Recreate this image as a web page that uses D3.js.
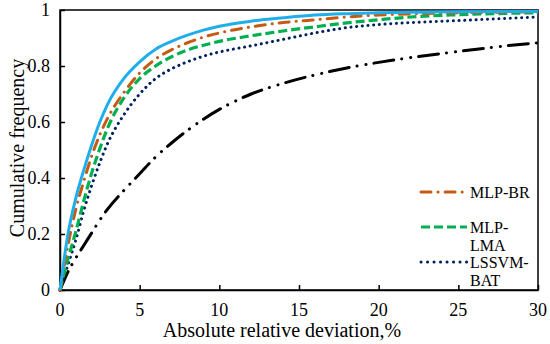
<!DOCTYPE html>
<html><head><meta charset="utf-8"><script src="https://cdn.jsdelivr.net/npm/d3@7"></script></head>
<body style="margin:0">
<svg width="550" height="344"></svg>
<script>
// x positions (absolute relative deviation, %)
const xVals = [0, 0.5, 1, 1.5, 2, 2.5, 3, 4, 5, 6, 7, 8, 9, 10, 12, 14, 16, 18, 20, 22, 25, 28, 30];

// cumulative frequency for each model
const bestModel = [0, 0.2, 0.33, 0.43, 0.52, 0.6, 0.665, 0.755, 0.815, 0.86, 0.888, 0.91, 0.928, 0.942, 0.96, 0.972, 0.982, 0.987, 0.99, 0.992, 0.994, 0.995, 0.995];
const mlpBR = [0, 0.16, 0.29, 0.39, 0.48, 0.555, 0.615, 0.705, 0.775, 0.825, 0.858, 0.883, 0.903, 0.918, 0.94, 0.955, 0.965, 0.975, 0.982, 0.986, 0.99, 0.992, 0.993];
const mlpLMA = [0, 0.11, 0.21, 0.32, 0.42, 0.505, 0.58, 0.685, 0.755, 0.80, 0.833, 0.857, 0.874, 0.888, 0.908, 0.925, 0.94, 0.954, 0.965, 0.975, 0.983, 0.988, 0.99];
const lssvmBAT = [0, 0.09, 0.18, 0.285, 0.375, 0.455, 0.525, 0.625, 0.7, 0.755, 0.79, 0.815, 0.835, 0.85, 0.872, 0.895, 0.918, 0.937, 0.948, 0.955, 0.962, 0.97, 0.975];
const worstModel = [0, 0.065, 0.115, 0.16, 0.205, 0.25, 0.29, 0.355, 0.415, 0.475, 0.525, 0.57, 0.61, 0.645, 0.7, 0.738, 0.768, 0.793, 0.813, 0.83, 0.852, 0.872, 0.883];

const xTicks = [0, 5, 10, 15, 20, 25, 30];
const yTicks = [0, 0.2, 0.4, 0.6, 0.8, 1];
const yLabels = ['0', '0.2', '0.4', '0.6', '0.8', '1'];

const svg = d3.select('svg');
const plotL = 60, plotR = 538, plotT = 10, plotB = 290;
const serif = "'Liberation Serif'";

const x = d3.scaleLinear().domain([0, 30]).range([plotL, plotR]);
const y = d3.scaleLinear().domain([0, 1]).range([plotB, plotT]);

// frame
svg.append('rect')
    .attr('x', plotL).attr('y', plotT)
    .attr('width', plotR - plotL).attr('height', plotB - plotT)
    .attr('fill', 'none').attr('stroke', '#000').attr('stroke-width', 1.5);

// axes: lines and inward ticks from d3, labels drawn as plain svg text
svg.append('g')
    .attr('transform', `translate(0,${plotB})`)
    .call(d3.axisBottom(x).tickValues(xTicks).tickSizeInner(-5).tickSizeOuter(0).tickFormat(''))
    .call(g => g.selectAll('path, line').attr('stroke-width', 1.5));
svg.append('g')
    .attr('transform', `translate(${plotL},0)`)
    .call(d3.axisLeft(y).tickValues(yTicks).tickSizeInner(-5).tickSizeOuter(0).tickFormat(''))
    .call(g => g.selectAll('path, line').attr('stroke-width', 1.5));

svg.selectAll('text.xt').data(xTicks).enter().append('text')
    .attr('class', 'xt')
    .attr('x', d => x(d)).attr('y', 316)
    .attr('text-anchor', 'middle')
    .attr('font-size', 18)
    .style('font-family', serif)
    .text(d => d);
svg.selectAll('text.yt').data(yTicks).enter().append('text')
    .attr('class', 'yt')
    .attr('x', plotL - 10).attr('y', d => y(d) + 6)
    .attr('text-anchor', 'end')
    .attr('font-size', 18)
    .style('font-family', serif)
    .text((d, i) => yLabels[i]);

// axis titles
svg.append('text')
    .attr('x', 282).attr('y', 337)
    .attr('text-anchor', 'middle')
    .attr('font-size', 20)
    .style('font-family', serif)
    .text('Absolute relative deviation,%');
svg.append('text')
    .attr('transform', 'translate(24,148) rotate(-90)')
    .attr('text-anchor', 'middle')
    .attr('font-size', 20)
    .style('font-family', serif)
    .text('Cumulative frequency');

const line = d3.line()
    .x((d, i) => x(xVals[i]))
    .y(d => y(d))
    .curve(d3.curveMonotoneX);

const series = [
    { vals: worstModel, color: '#000000', width: 3, dash: '20,8,0.1,9,0.1,8', cap: 'round' },
    { vals: lssvmBAT, color: '#002060', width: 3, dash: '0.1,5.6', cap: 'round' },
    { vals: mlpLMA, color: '#00B050', width: 3.2, dash: '9,4', cap: 'butt' },
    { vals: mlpBR, color: '#C55A11', width: 3, dash: '10,7,0.1,7', cap: 'round' },
    { vals: bestModel, color: '#1FAEEA', width: 3, dash: null, cap: 'butt' }
];

svg.selectAll('path.series')
    .data(series)
    .enter().append('path')
    .attr('class', 'series')
    .attr('d', s => line(s.vals))
    .attr('fill', 'none')
    .attr('stroke', s => s.color)
    .attr('stroke-width', s => s.width)
    .attr('stroke-dasharray', s => s.dash)
    .attr('stroke-linecap', s => s.cap);

// legend (only three entries in the original), one text per line
const legend = [
    { label: ['MLP-BR'], color: '#C55A11', dash: '10,7,0.1,7', cap: 'round', y: 192 },
    { label: ['MLP-', 'LMA'], color: '#00B050', dash: '9,4', cap: 'butt', y: 227 },
    { label: ['LSSVM-', 'BAT'], color: '#002060', dash: '0.1,6.4', cap: 'round', y: 262 }
];
legend.forEach(d => {
    svg.append('line')
        .attr('x1', 421).attr('x2', 467)
        .attr('y1', d.y).attr('y2', d.y)
        .attr('stroke', d.color)
        .attr('stroke-width', 3)
        .attr('stroke-dasharray', d.dash)
        .attr('stroke-linecap', d.cap);
    d.label.forEach((l, i) => {
        svg.append('text')
            .attr('x', 470).attr('y', d.y + 5.5 + i * 18)
            .attr('font-size', 16)
            .style('font-family', serif)
            .text(l);
    });
});
</script>
</body>
</html>
